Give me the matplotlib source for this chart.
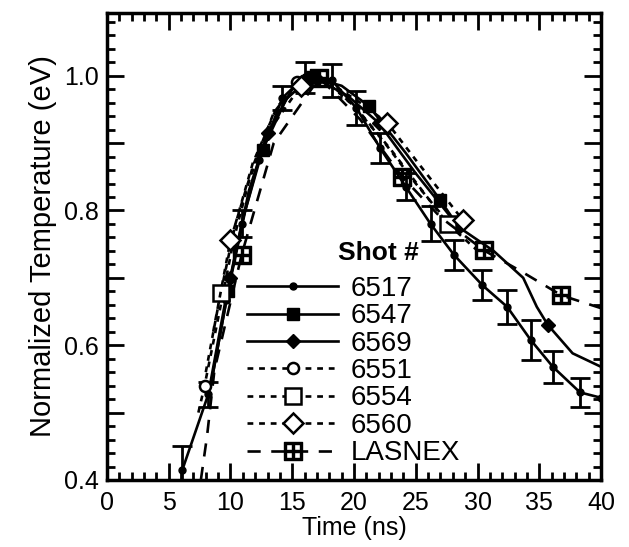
import numpy as np
import matplotlib
matplotlib.use("Agg")
import matplotlib.pyplot as plt
from matplotlib.ticker import MultipleLocator, FuncFormatter

plt.rcParams['font.family'] = ['Liberation Sans', 'DejaVu Sans']

# --- данные ---
t_6517 = [6.1, 8.2, 9.6, 10.9, 12.3, 14.2, 16.0, 18.2, 20.2, 22.1, 24.2, 26.2, 28.1, 30.4, 32.4, 34.3, 36.1, 38.3, 40.0]
T_6517 = [0.415, 0.527, 0.667, 0.78, 0.875, 0.967, 0.998, 0.993, 0.952, 0.893, 0.835, 0.78, 0.734, 0.689, 0.657, 0.608, 0.568, 0.53, 0.522]
e_6517 = [0.035, 0.018, 0.0, 0.02, 0.0, 0.018, 0.023, 0.025, 0.025, 0.022, 0.02, 0.026, 0.022, 0.022, 0.025, 0.03, 0.024, 0.022, 0.0]

t_6547 = [8.4, 9.8, 11.2, 12.6, 14.5, 16.5, 19.0, 21.2, 24.2, 27.0, 28.3]
T_6547 = [0.54, 0.68, 0.80, 0.89, 0.965, 0.998, 0.985, 0.955, 0.885, 0.815, 0.78]

t_6569 = [8.6, 10.0, 11.5, 13.0, 15.0, 17.0, 19.5, 22.0, 25.0, 28.5, 31.3, 33.7, 34.8, 35.7, 37.7, 40.0]
T_6569 = [0.56, 0.70, 0.83, 0.915, 0.98, 0.995, 0.97, 0.93, 0.855, 0.775, 0.74, 0.70, 0.657, 0.63, 0.588, 0.568]

t_6551 = [7.4, 7.9, 9.0, 10.3, 11.8, 13.5, 15.4, 17.5, 20.0, 22.5, 25.0, 27.5]
T_6551 = [0.50, 0.54, 0.64, 0.76, 0.865, 0.945, 0.99, 0.995, 0.955, 0.90, 0.84, 0.785]

t_6554 = [8.0, 9.2, 10.4, 11.8, 13.8, 16.0, 18.0, 20.5, 23.0, 25.5, 27.6, 30.2]
T_6554 = [0.56, 0.677, 0.78, 0.87, 0.955, 0.99, 0.99, 0.945, 0.89, 0.83, 0.78, 0.737]

t_6560 = [8.6, 10.0, 11.4, 13.0, 15.7, 18.0, 20.5, 22.7, 25.0, 28.8]
T_6560 = [0.62, 0.756, 0.84, 0.915, 0.985, 0.99, 0.96, 0.93, 0.875, 0.786]

t_lasnex = [7.6, 8.1, 8.7, 9.6, 10.9, 13.5, 17.2, 20.5, 23.9, 27.0, 30.5, 33.5, 36.8, 40.0]
T_lasnex = [0.40, 0.465, 0.563, 0.633, 0.734, 0.90, 0.997, 0.935, 0.85, 0.79, 0.741, 0.71, 0.674, 0.655]

fig = plt.figure(figsize=(6.29, 5.47), dpi=100)
ax = fig.add_axes([0.1701, 0.1225, 0.7854, 0.8537])

lw = 1.9
dot = (0, (2.2, 2.2))

ax.plot(t_6517, T_6517, '-', color='k', lw=lw, marker='o', ms=5, label='6517')
# планки погрешностей (точки с нулём — без планки)
e = np.array(e_6517)
m = e > 0
ax.errorbar(np.array(t_6517)[m], np.array(T_6517)[m], yerr=e[m], fmt='none',
            ecolor='k', elinewidth=2, capsize=7, capthick=2)

ax.plot(t_6547, T_6547, '-', color='k', lw=lw, marker='s', ms=8, markevery=[1, 3, 5, 7, 9], label='6547')
ax.plot(t_6569, T_6569, '-', color='k', lw=lw, marker='D', ms=7, markevery=[1, 3, 5, 7, 9, 13], label='6569')
ax.plot(t_6551, T_6551, linestyle=dot, color='k', lw=lw, marker='o', ms=8, mfc='white', mew=1.8,
        markevery=[1, 6], label='6551')
ax.plot(t_6554, T_6554, linestyle=dot, color='k', lw=lw, marker='s', ms=11, mfc='white', mew=1.8,
        markevery=[1, 10], label='6554')
ax.plot(t_6560, T_6560, linestyle=dot, color='k', lw=lw, marker='D', ms=10, mfc='white', mew=1.8,
        markevery=[1, 4, 7, 9], label='6560')
ax.plot(t_lasnex, T_lasnex, linestyle=(0, (5, 4)), color='k', lw=lw, marker=r'$\boxplus$', ms=13,
        markevery=[4, 6, 8, 10, 12], label='LASNEX')

ax.set_xlim(0, 40)
ax.set_ylim(0.4, 1.093)
ax.xaxis.set_major_locator(MultipleLocator(5))
ax.xaxis.set_minor_locator(MultipleLocator(1))
ax.yaxis.set_major_locator(MultipleLocator(0.1))
ax.yaxis.set_minor_locator(MultipleLocator(0.02))
ax.yaxis.set_major_formatter(FuncFormatter(lambda v, p: f'{v:.1f}' if round(v * 10) % 2 == 0 else ''))

ax.tick_params(which='both', direction='in', top=True, right=True, width=2, labelsize=18)
ax.tick_params(which='major', length=12)
ax.tick_params(axis='x', which='major', pad=8)
ax.tick_params(axis='y', which='major', pad=6)
ax.tick_params(which='minor', length=6)
for s in ax.spines.values():
    s.set_linewidth(2.5)

ax.set_xlabel('Time (ns)', fontsize=18, labelpad=1)
ax.set_ylabel('Normalized Temperature (eV)', fontsize=21, labelpad=5)

leg = ax.legend(loc='upper left', bbox_to_anchor=(0.283, 0.437), frameon=False, fontsize=20,
                handlelength=3.3, handletextpad=0.45, labelspacing=0.05, borderpad=0, borderaxespad=0)
ax.text(0.55, 0.487, 'Shot #', transform=ax.transAxes, fontsize=19, fontweight='bold',
        ha='center', va='center')

fig.savefig('out.png', dpi=100)
